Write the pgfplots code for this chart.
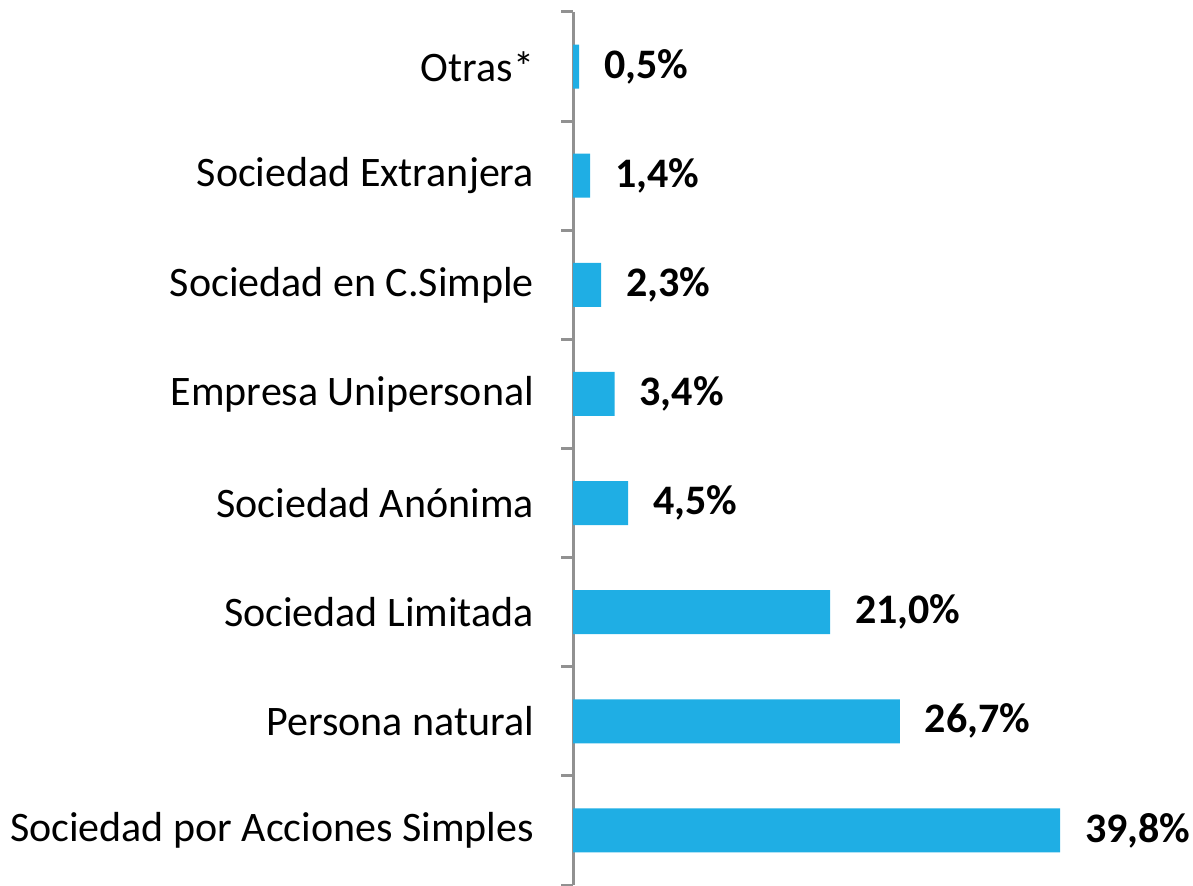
\documentclass[border=0pt]{standalone}
\usepackage{pgfplots}
\pgfplotsset{compat=1.18}
\usepackage{fontspec}
\setmainfont{Carlito}
\definecolor{barblue}{RGB}{31,174,228}
\definecolor{axgray}{RGB}{145,145,145}
\begin{document}
\begin{tikzpicture}
\path[use as bounding box] (0pt,0pt) rectangle (596.5pt,442.5pt);
\begin{axis}[
  at={(286.5pt,0pt)}, anchor=south west,
  scale only axis,
  width=306pt, height=436.5pt,
  xmin=0, xmax=50,
  ymin=-0.5, ymax=7.5,
  axis x line=none,
  axis y line*=left,
  y axis line style={draw=axgray, line width=1.5pt, -},
  ytick={0,...,7},
  yticklabels={Sociedad por Acciones Simples,Persona natural,Sociedad Limitada,Sociedad Anónima,Empresa Unipersonal,Sociedad en C.Simple,Sociedad Extranjera,Otras*},
  major tick length=0pt,
  minor ytick={-0.5,0.5,...,7.5},
  minor tick length=6pt,
  minor tick style={draw=axgray, line width=1.5pt},
  tick align=outside,
  yticklabel style={font=\fontsize{21}{25}\selectfont, black, xshift=-16pt},
  xbar, bar width=22pt,
  clip=false,
  nodes near coords={\pgfmathprintnumber[fixed,fixed zerofill,precision=1,use comma,assume math mode=true]{\pgfplotspointmeta}\%},
  nodes near coords style={font=\fontsize{21}{25}\selectfont\bfseries, black, anchor=west, xshift=9pt},
  point meta=explicit,
]
\addplot[fill=barblue, draw=none] coordinates {
  (39.8,0) [39.8]
  (26.7,1) [26.7]
  (21.0,2) [21.0]
  (4.5,3) [4.5]
  (3.4,4) [3.4]
  (2.3,5) [2.3]
  (1.4,6) [1.4]
  (0.5,7) [0.5]
};
\end{axis}
\end{tikzpicture}
\end{document}
